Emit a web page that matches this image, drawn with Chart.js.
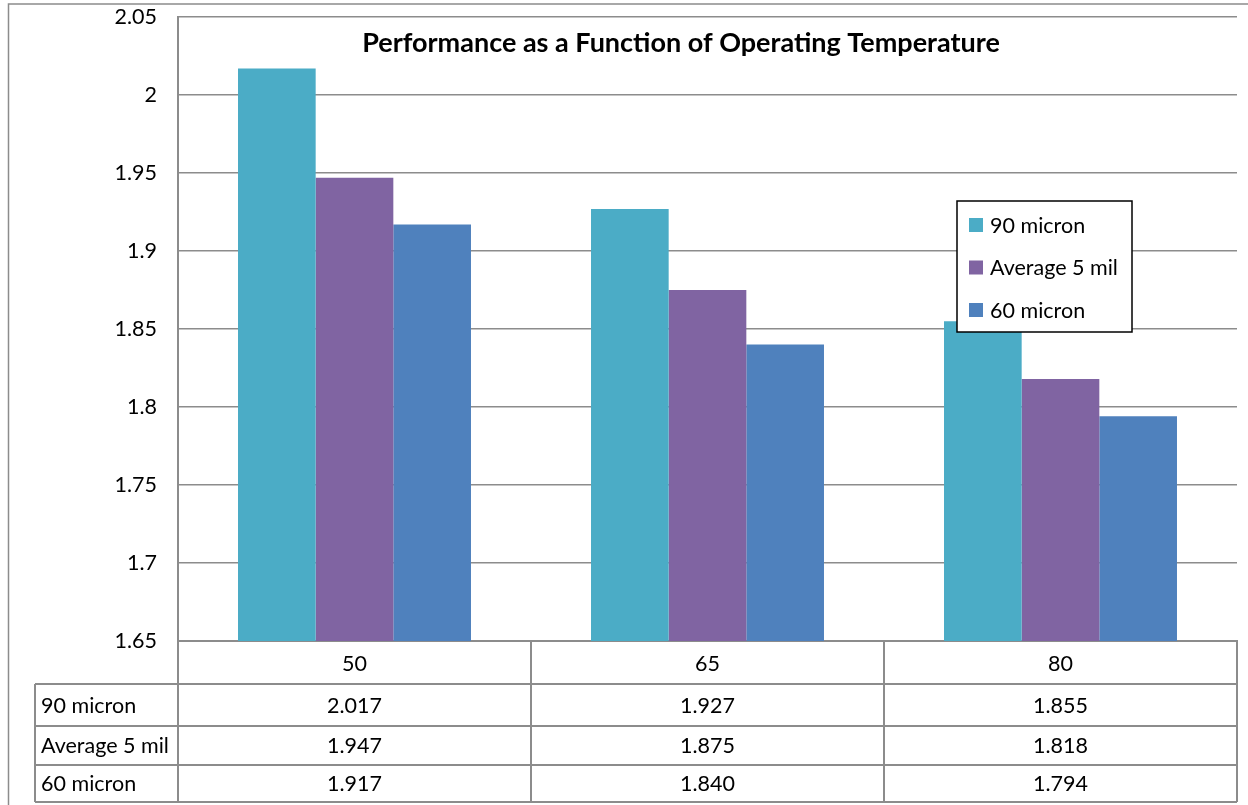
<!DOCTYPE html>
<html>
<head>
<meta charset="utf-8">
<script src="https://cdn.jsdelivr.net/npm/chart.js@4"></script>
<style>
html,body{margin:0;padding:0;background:#fff;}
#wrap{width:1248px;height:805px;position:relative;}
</style>
</head>
<body>
<div id="wrap"><canvas id="c" width="1248" height="805"></canvas></div>
<script>
const titleText = 'Performance as a Function of Operating Temperature';
const categories = ['50', '65', '80'];
const seriesNames = ['90 micron', 'Average 5 mil', '60 micron'];
const micron90 = [2.017, 1.927, 1.855];
const average5mil = [1.947, 1.875, 1.818];
const micron60 = [1.917, 1.840, 1.794];
const yMin = 1.65, yMax = 2.05, yStep = 0.05;

const colors = ['#4BACC6', '#8064A2', '#4F81BD'];
const gridColor = '#8c8c8c';
const FONT = 'Lato, "Noto Sans", sans-serif';
const TXT = 21.5;

const overlay = {
  id: 'overlay',
  afterDraw(chart) {
    const ctx = chart.ctx;
    const ca = chart.chartArea;
    const xs = chart.scales.x;
    ctx.save();
    // outer border
    ctx.strokeStyle = gridColor;
    ctx.lineWidth = 1.5;
    ctx.strokeRect(8.5, 4, 1300, 900);

    // title
    ctx.fillStyle = '#000';
    ctx.font = 'bold 27px ' + FONT;
    ctx.textAlign = 'center';
    ctx.textBaseline = 'middle';
    ctx.fillText(titleText, 681, 43);

    // legend
    const lx = 957, ly = 201, lw = 175, lh = 131;
    ctx.fillStyle = '#fff';
    ctx.fillRect(lx, ly, lw, lh);
    ctx.strokeStyle = '#000';
    ctx.lineWidth = 1.5;
    ctx.strokeRect(lx, ly, lw, lh);
    ctx.font = TXT + 'px ' + FONT;
    ctx.textAlign = 'left';
    chart.data.datasets.forEach((ds, i) => {
      const cy = 225 + i * 42.5;
      ctx.fillStyle = ds.backgroundColor;
      ctx.fillRect(969, cy - 7, 14, 14);
      ctx.fillStyle = '#000';
      ctx.fillText(ds.label, 990, cy + 1);
    });

    // data table
    const rowsY = [ca.bottom, 684, 726, 765, 802];
    const leftX = 35;
    ctx.strokeStyle = gridColor;
    ctx.lineWidth = 2;
    ctx.beginPath();
    for (let r = 1; r < rowsY.length; r++) {
      ctx.moveTo(leftX, rowsY[r]);
      ctx.lineTo(ca.right, rowsY[r]);
    }
    const n = categories.length;
    const catW = (ca.right - ca.left) / n;
    for (let k = 0; k <= n; k++) {
      const x = ca.left + k * catW;
      ctx.moveTo(x, ca.bottom);
      ctx.lineTo(x, rowsY[rowsY.length - 1]);
    }
    ctx.moveTo(leftX, rowsY[1]);
    ctx.lineTo(leftX, rowsY[rowsY.length - 1]);
    ctx.stroke();

    ctx.fillStyle = '#000';
    ctx.font = TXT + 'px ' + FONT;
    ctx.textAlign = 'center';
    categories.forEach((c, k) => {
      const x = xs.getPixelForValue(k);
      ctx.fillText(c, x, (rowsY[0] + rowsY[1]) / 2 + 2);
    });
    chart.data.datasets.forEach((ds, i) => {
      const cy = (rowsY[i + 1] + rowsY[i + 2]) / 2 + 1;
      ctx.textAlign = 'left';
      ctx.fillText(ds.label, 41, cy);
      ctx.textAlign = 'center';
      ds.data.forEach((v, k) => {
        ctx.fillText(v.toFixed(3), xs.getPixelForValue(k), cy);
      });
    });
    ctx.restore();
  }
};

new Chart(document.getElementById('c'), {
  type: 'bar',
  data: {
    labels: categories,
    datasets: [
      { label: seriesNames[0], data: micron90, backgroundColor: colors[0] },
      { label: seriesNames[1], data: average5mil, backgroundColor: colors[1] },
      { label: seriesNames[2], data: micron60, backgroundColor: colors[2] }
    ]
  },
  options: {
    responsive: false,
    animation: false,
    devicePixelRatio: 1,
    layout: { padding: { left: 8, top: 17, right: 11, bottom: 0 } },
    datasets: { bar: { categoryPercentage: 0.66, barPercentage: 1.0, borderWidth: 0 } },
    plugins: { legend: { display: false }, title: { display: false }, tooltip: { enabled: false } },
    scales: {
      x: {
        grid: { display: false, drawTicks: false },
        border: { display: true, color: gridColor, width: 2 },
        ticks: { display: false },
        afterFit(s) { s.height = 164; s.paddingLeft = 0; s.paddingRight = 0; }
      },
      y: {
        min: yMin, max: yMax,
        ticks: {
          stepSize: yStep,
          padding: 21,
          color: '#000',
          font: { family: FONT, size: TXT },
          callback: v => String(Number(v.toFixed(2)))
        },
        grid: { color: gridColor, lineWidth: 1.5, drawTicks: false },
        border: { display: true, color: gridColor, width: 2 },
        afterFit(s) { s.width = 170; s.paddingTop = 0; s.paddingBottom = 0; }
      }
    }
  },
  plugins: [overlay]
});
</script>
</body>
</html>
